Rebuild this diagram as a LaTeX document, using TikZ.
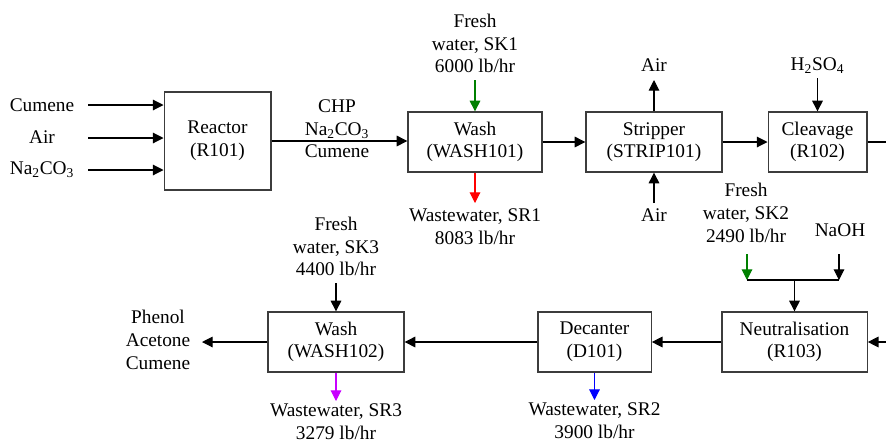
\documentclass[tikz,border=0pt]{standalone}
\usepackage{fontspec}
\setmainfont{LiberationSerif}[Extension=.ttf, UprightFont=*-Regular, BoldFont=*-Bold,
  ItalicFont=*-Italic, BoldItalicFont=*-BoldItalic]
\usetikzlibrary{arrows.meta,positioning}
\definecolor{skGreen}{RGB}{0,128,0}
\definecolor{srRed}{RGB}{255,0,0}
\definecolor{srBlue}{RGB}{0,0,255}
\definecolor{srMag}{RGB}{200,0,255}
\definecolor{unitGray}{RGB}{60,60,60}

\begin{document}
\begin{tikzpicture}[x=0.75pt,y=-0.75pt,font=\rmfamily\fontsize{14.5}{17}\selectfont,
  unit/.style={draw=unitGray, line width=1pt, align=center, inner sep=0pt,
               minimum width=102pt, minimum height=45pt},
  stream/.style={-{Triangle[length=8pt,width=8pt]}, line width=0.8pt},
  lbl/.style={align=center, inner sep=0pt}]
  \useasboundingbox (0,0) rectangle (886,444);

  % process units, top row
  \node[unit, minimum width=80pt, minimum height=73.5pt] (reactor) at (217.5,141) {Reactor\\(R101)};
  \node[unit, minimum width=100.5pt] (wash1) at (475,142) {Wash\\(WASH101)};
  \node[unit] (strip) at (654,142) {Stripper\\(STRIP101)};
  \node[unit, minimum width=74pt] (cleave) at (817.5,142) {Cleavage\\(R102)};
  % process units, bottom row
  \node[unit, minimum width=109pt] (neut) at (794.5,342) {Neutralisation\\(R103)};
  \node[unit, minimum width=85pt] (dec) at (594.5,342) {Decanter\\(D101)};
  \node[unit] (wash2) at (336,342) {Wash\\(WASH102)};

  % feeds to the reactor
  \node[lbl] (feedCum) at (42,105) {Cumene};
  \node[lbl] (feedAir) at (42,137) {Air};
  \node[lbl] (feedNa) at (42,170) {Na\textsubscript{2}CO\textsubscript{3}};
  \coordinate (cumS) at (88,105);
  \coordinate (airS) at (88,138);
  \coordinate (naS) at (88,170);
  \draw[stream] (cumS) -- (cumS -| reactor.west);
  \draw[stream] (airS) -- (airS -| reactor.west);
  \draw[stream] (naS) -- (naS -| reactor.west);

  % reactor -> wash
  \draw[stream] (reactor.east) -- (reactor.east -| wash1.west);
  \node[lbl] (oxOut) at (337,129) {CHP\\Na\textsubscript{2}CO\textsubscript{3}\\Cumene};

  % first wash: fresh water in, wastewater out
  \coordinate (sk1S) at (475,80);
  \node[lbl, above=5pt of sk1S] (sk1) {Fresh\\water, SK1\\6000 lb/hr};
  \draw[stream, skGreen] (sk1S) -- (wash1.north);
  \coordinate (sr1E) at (475,203);
  \draw[stream, srRed] (wash1.south) -- (sr1E);
  \node[lbl, below=4pt of sr1E] (sr1) {Wastewater, SR1\\8083 lb/hr};

  % stripper
  \draw[stream] (wash1.east) -- (strip.west);
  \coordinate (airTop) at (654,80);
  \draw[stream] (strip.north) -- (airTop);
  \node[lbl, above=6pt of airTop] (airOut) {Air};
  \coordinate (airBot) at (654,203);
  \draw[stream] (airBot) -- (strip.south);
  \node[lbl, below=4pt of airBot] (airIn) {Air};

  % cleavage
  \draw[stream] (strip.east) -- (cleave.west);
  \coordinate (acidS) at (817.5,78);
  \node[lbl, above=3pt of acidS] (acid) {H\textsubscript{2}SO\textsubscript{4}};
  \draw[stream] (acidS) -- (cleave.north);
  \coordinate (cleaveOut) at (890,142);
  \draw[line width=0.8pt] (cleave.east) -- (cleaveOut);

  % neutralisation: fresh water and NaOH joined
  \node[lbl] (sk2) at (746,213) {Fresh\\water, SK2\\2490 lb/hr};
  \node[lbl] (naoh) at (840,230) {NaOH};
  \coordinate (sk2S) at (747,254);
  \coordinate (sk2E) at (747,280);
  \coordinate (naohS) at (839,254);
  \coordinate (naohE) at (839,280);
  \coordinate (mixS) at (794.5,280);
  \draw[stream, skGreen] (sk2S) -- (sk2E);
  \draw[stream] (naohS) -- (naohE);
  \draw[line width=0.8pt] (sk2E) -- (naohE);
  \draw[stream] (mixS) -- (neut.north);
  \coordinate (neutIn) at (890,342);
  \draw[stream] (neutIn) -- (neut.east);

  % decanter
  \draw[stream] (neut.west) -- (dec.east);
  \coordinate (sr2E) at (594.5,400);
  \draw[stream, srBlue] (dec.south) -- (sr2E);
  \node[lbl, below=2pt of sr2E] (sr2) {Wastewater, SR2\\3900 lb/hr};

  % second wash and products
  \draw[stream] (dec.west) -- (wash2.east);
  \coordinate (sk3S) at (336,283);
  \node[lbl, above=5pt of sk3S] (sk3) {Fresh\\water, SK3\\4400 lb/hr};
  \draw[stream] (sk3S) -- (wash2.north);
  \coordinate (sr3E) at (336,401);
  \draw[stream, srMag] (wash2.south) -- (sr3E);
  \node[lbl, below=2pt of sr3E] (sr3) {Wastewater, SR3\\3279 lb/hr};
  \coordinate (prodE) at (202,342);
  \draw[stream] (wash2.west) -- (prodE);
  \node[lbl] (prod) at (158,340) {Phenol\\Acetone\\Cumene};
\end{tikzpicture}
\end{document}
